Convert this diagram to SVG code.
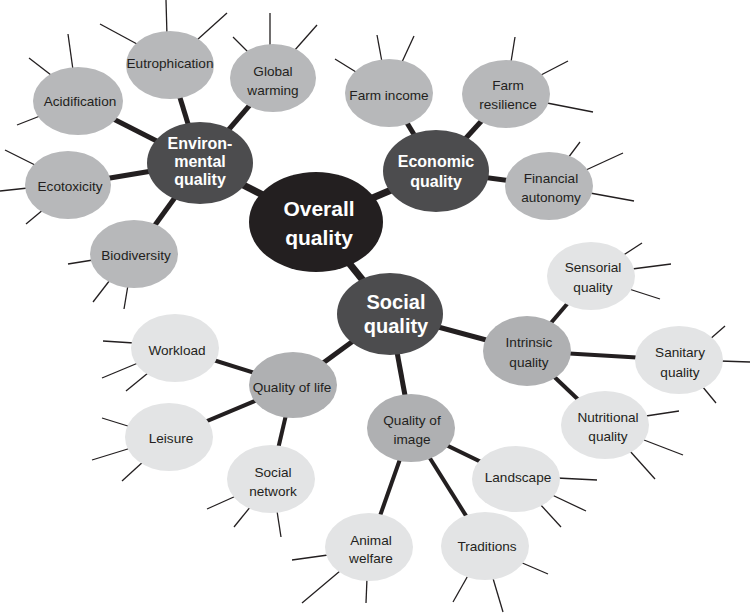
<svg xmlns="http://www.w3.org/2000/svg" width="750" height="613" viewBox="0 0 750 613">
<style>
.bg{fill:#ffffff}
.c0{stroke:#231f20;stroke-width:7;stroke-linecap:butt;fill:none}
.c1{stroke:#231f20;stroke-width:5;fill:none}
.c2{stroke:#231f20;stroke-width:4;fill:none}
.sp{stroke:#231f20;stroke-width:1.3;fill:none}
.n0{fill:#231f20}
.n1{fill:#4c4c4e}
.n2{fill:#b7b8ba}
.n3{fill:#afb0b2}
.n4{fill:#e3e4e5}
text{font-family:"Liberation Sans",Arial,Helvetica,sans-serif;text-anchor:middle}
.t{font-size:13.6px;fill:#231f20}
.tb{font-size:16px;font-weight:bold;fill:#ffffff}
.tx{font-size:21px;font-weight:bold;fill:#ffffff}
.ts{font-size:20px;font-weight:bold;fill:#ffffff}
</style>
<rect class="bg" x="0" y="0" width="750" height="613"/>
<g id="connectors">
<line class="c0" x1="316" y1="222" x2="200" y2="163"/>
<line class="c0" x1="316" y1="222" x2="436" y2="171"/>
<line class="c0" x1="316" y1="222" x2="390" y2="314"/>
<line class="c1" x1="200" y1="163" x2="170" y2="65"/>
<line class="c1" x1="200" y1="163" x2="273" y2="78"/>
<line class="c1" x1="200" y1="163" x2="78" y2="101"/>
<line class="c1" x1="200" y1="163" x2="68" y2="185"/>
<line class="c1" x1="200" y1="163" x2="134" y2="254"/>
<line class="c1" x1="436" y1="171" x2="389" y2="93"/>
<line class="c1" x1="436" y1="171" x2="506" y2="94"/>
<line class="c1" x1="436" y1="171" x2="549" y2="186"/>
<line class="c1" x1="390" y1="314" x2="527" y2="351"/>
<line class="c1" x1="390" y1="314" x2="293" y2="385"/>
<line class="c1" x1="390" y1="314" x2="411" y2="428"/>
<line class="c2" x1="527" y1="351" x2="591" y2="276"/>
<line class="c2" x1="527" y1="351" x2="679" y2="360"/>
<line class="c2" x1="527" y1="351" x2="605" y2="425"/>
<line class="c2" x1="293" y1="385" x2="175" y2="348"/>
<line class="c2" x1="293" y1="385" x2="169" y2="437"/>
<line class="c2" x1="293" y1="385" x2="271" y2="479"/>
<line class="c2" x1="411" y1="428" x2="516" y2="479"/>
<line class="c2" x1="411" y1="428" x2="485" y2="546"/>
<line class="c2" x1="411" y1="428" x2="369" y2="547"/>
<g id="spokes">
<line class="sp" x1="166" y1="0" x2="167" y2="36"/>
<line class="sp" x1="100" y1="24" x2="137" y2="44"/>
<line class="sp" x1="227" y1="13" x2="197" y2="40"/>
<line class="sp" x1="270" y1="13" x2="270" y2="47"/>
<line class="sp" x1="233" y1="37" x2="248" y2="52"/>
<line class="sp" x1="317" y1="25" x2="294" y2="51"/>
<line class="sp" x1="68" y1="34" x2="73" y2="70"/>
<line class="sp" x1="29" y1="58" x2="51" y2="75"/>
<line class="sp" x1="17" y1="125" x2="40" y2="116"/>
<line class="sp" x1="5" y1="150" x2="35" y2="165"/>
<line class="sp" x1="0" y1="191" x2="28" y2="188"/>
<line class="sp" x1="26" y1="224" x2="44" y2="209"/>
<line class="sp" x1="68" y1="264" x2="93" y2="260"/>
<line class="sp" x1="93" y1="302" x2="110" y2="280"/>
<line class="sp" x1="124" y1="309" x2="128" y2="285"/>
<line class="sp" x1="335" y1="59" x2="356" y2="72"/>
<line class="sp" x1="377" y1="35" x2="382" y2="62"/>
<line class="sp" x1="414" y1="36" x2="402" y2="62"/>
<line class="sp" x1="515" y1="37" x2="511" y2="62"/>
<line class="sp" x1="568" y1="61" x2="541" y2="75"/>
<line class="sp" x1="547" y1="103" x2="593" y2="112"/>
<line class="sp" x1="580" y1="142" x2="568" y2="158"/>
<line class="sp" x1="623" y1="153" x2="586" y2="170"/>
<line class="sp" x1="590" y1="193" x2="634" y2="201"/>
<line class="sp" x1="642" y1="243" x2="622" y2="256"/>
<line class="sp" x1="671" y1="264" x2="632" y2="269"/>
<line class="sp" x1="629" y1="289" x2="660" y2="299"/>
<line class="sp" x1="709" y1="340" x2="725" y2="326"/>
<line class="sp" x1="720" y1="361" x2="750" y2="362"/>
<line class="sp" x1="702" y1="386" x2="716" y2="403"/>
<line class="sp" x1="646" y1="416" x2="679" y2="411"/>
<line class="sp" x1="644" y1="440" x2="683" y2="455"/>
<line class="sp" x1="629" y1="450" x2="655" y2="479"/>
<line class="sp" x1="557" y1="478" x2="597" y2="480"/>
<line class="sp" x1="550" y1="494" x2="586" y2="511"/>
<line class="sp" x1="539" y1="503" x2="561" y2="527"/>
<line class="sp" x1="520" y1="562" x2="548" y2="574"/>
<line class="sp" x1="470" y1="572" x2="453" y2="602"/>
<line class="sp" x1="492" y1="575" x2="503" y2="612"/>
<line class="sp" x1="292" y1="560" x2="328" y2="555"/>
<line class="sp" x1="302" y1="603" x2="340" y2="571"/>
<line class="sp" x1="366" y1="603" x2="367" y2="578"/>
<line class="sp" x1="103" y1="341" x2="134" y2="343"/>
<line class="sp" x1="102" y1="378" x2="138" y2="363"/>
<line class="sp" x1="126" y1="391" x2="148" y2="373"/>
<line class="sp" x1="102" y1="418" x2="131" y2="427"/>
<line class="sp" x1="92" y1="460" x2="131" y2="448"/>
<line class="sp" x1="122" y1="481" x2="145" y2="460"/>
<line class="sp" x1="207" y1="509" x2="236" y2="496"/>
<line class="sp" x1="234" y1="527" x2="251" y2="506"/>
<line class="sp" x1="281" y1="537" x2="277" y2="511"/>
</g>
</g>
<g id="overall"><ellipse class="n0" cx="316" cy="222" rx="67" ry="50"/><text class="tx" x="319" y="216">Overall</text><text class="tx" x="319" y="245">quality</text></g>
<g id="environmental"><ellipse class="n1" cx="200" cy="163" rx="53" ry="41"/><text class="tb" x="200" y="149">Environ-</text><text class="tb" x="200" y="167">mental</text><text class="tb" x="200" y="185">quality</text></g>
<g id="economic"><ellipse class="n1" cx="436" cy="171" rx="53" ry="41"/><text class="tb" x="436" y="167">Economic</text><text class="tb" x="436" y="187">quality</text></g>
<g id="social"><ellipse class="n1" cx="390" cy="314" rx="53" ry="41"/><text class="ts" x="396" y="309">Social</text><text class="ts" x="396" y="333">quality</text></g>
<g id="eutrophication"><ellipse class="n2" cx="170" cy="65" rx="44" ry="34"/><text class="t" x="170" y="68">Eutrophication</text></g>
<g id="global-warming"><ellipse class="n2" cx="273" cy="78" rx="43" ry="34"/><text class="t" x="273" y="76">Global</text><text class="t" x="273" y="95">warming</text></g>
<g id="acidification"><ellipse class="n2" cx="78" cy="101" rx="45" ry="34"/><text class="t" x="80" y="106">Acidification</text></g>
<g id="ecotoxicity"><ellipse class="n2" cx="68" cy="185" rx="43" ry="34"/><text class="t" x="70" y="191">Ecotoxicity</text></g>
<g id="biodiversity"><ellipse class="n2" cx="134" cy="254" rx="44" ry="34"/><text class="t" x="136" y="260">Biodiversity</text></g>
<g id="farm-income"><ellipse class="n2" cx="389" cy="93" rx="44" ry="34"/><text class="t" x="389" y="100">Farm income</text></g>
<g id="farm-resilience"><ellipse class="n2" cx="506" cy="94" rx="44" ry="34"/><text class="t" x="508" y="90">Farm</text><text class="t" x="508" y="109">resilience</text></g>
<g id="financial-autonomy"><ellipse class="n2" cx="549" cy="186" rx="44" ry="34"/><text class="t" x="551" y="183">Financial</text><text class="t" x="551" y="202">autonomy</text></g>
<g id="intrinsic-quality"><ellipse class="n3" cx="527" cy="351" rx="44" ry="35"/><text class="t" x="529" y="347">Intrinsic</text><text class="t" x="529" y="367">quality</text></g>
<g id="quality-of-life"><ellipse class="n3" cx="293" cy="385" rx="44" ry="33"/><text class="t" x="292" y="392">Quality of life</text></g>
<g id="quality-of-image"><ellipse class="n3" cx="411" cy="428" rx="44" ry="34"/><text class="t" x="412" y="425">Quality of</text><text class="t" x="412" y="444">image</text></g>
<g id="sensorial-quality"><ellipse class="n4" cx="591" cy="276" rx="44" ry="34"/><text class="t" x="593" y="272">Sensorial</text><text class="t" x="593" y="292">quality</text></g>
<g id="sanitary-quality"><ellipse class="n4" cx="679" cy="360" rx="44" ry="34"/><text class="t" x="680" y="357">Sanitary</text><text class="t" x="680" y="377">quality</text></g>
<g id="nutritional-quality"><ellipse class="n4" cx="605" cy="425" rx="44" ry="34"/><text class="t" x="608" y="422">Nutritional</text><text class="t" x="608" y="441">quality</text></g>
<g id="workload"><ellipse class="n4" cx="175" cy="348" rx="44" ry="34"/><text class="t" x="177" y="355">Workload</text></g>
<g id="leisure"><ellipse class="n4" cx="169" cy="437" rx="44" ry="34"/><text class="t" x="171" y="443">Leisure</text></g>
<g id="social-network"><ellipse class="n4" cx="271" cy="479" rx="44" ry="34"/><text class="t" x="273" y="477">Social</text><text class="t" x="273" y="496">network</text></g>
<g id="landscape"><ellipse class="n4" cx="516" cy="479" rx="44" ry="33"/><text class="t" x="518" y="482">Landscape</text></g>
<g id="traditions"><ellipse class="n4" cx="485" cy="546" rx="44" ry="34"/><text class="t" x="487" y="551">Traditions</text></g>
<g id="animal-welfare"><ellipse class="n4" cx="369" cy="547" rx="44" ry="34"/><text class="t" x="371" y="545">Animal</text><text class="t" x="371" y="563">welfare</text></g>
</svg>
